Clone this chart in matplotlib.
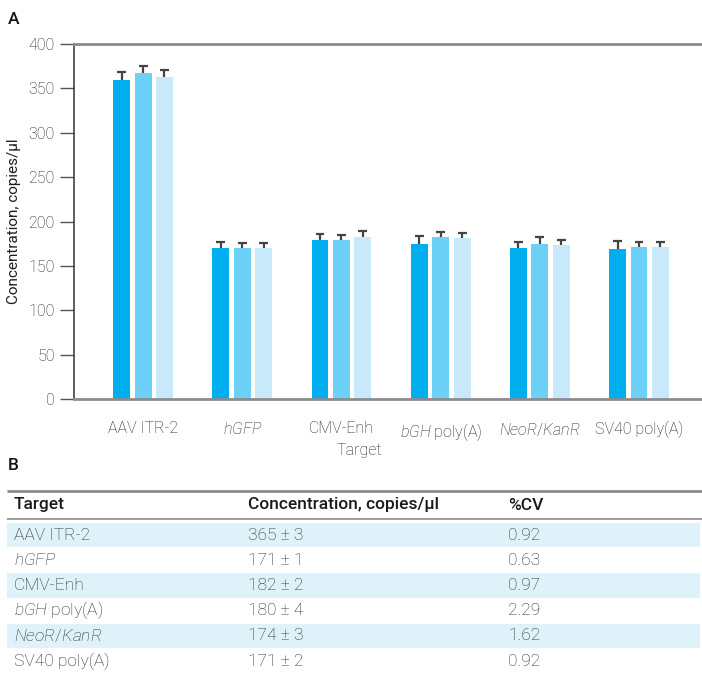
import matplotlib
matplotlib.use("Agg")
import matplotlib.pyplot as plt
import numpy as np

plt.rcParams['font.family'] = ['Roboto', 'DejaVu Sans']
plt.rcParams['font.weight'] = 'light'
plt.rcParams['mathtext.fontset'] = 'custom'
plt.rcParams['mathtext.rm'] = 'Roboto:light'
plt.rcParams['mathtext.it'] = 'Roboto:italic:light'

# ---- data ----
targets = ['AAV ITR-2', r'$\it{hGFP}$', 'CMV-Enh', r'$\it{bGH}$ poly(A)',
           r'$\it{NeoR/KanR}$', 'SV40 poly(A)']
rep1 = [360, 170, 179, 175, 170, 169]
rep2 = [367, 170, 179, 182, 175, 171]
rep3 = [363, 170, 182, 181, 173, 171]
err1 = [8, 7, 7, 9, 7, 9]
err2 = [8, 6, 6, 6, 7, 6]
err3 = [8, 6, 7, 6, 6, 6]
rep_colors = ['#00aeef', '#6dd0f7', '#c7e9f9']

table_conc = ['365 ± 3', '171 ± 1', '182 ± 2', '180 ± 4', '174 ± 3', '171 ± 2']
table_cv = ['0.92', '0.63', '0.97', '2.29', '1.62', '0.92']
table_header = ['Target', 'Concentration, copies/µl', '%CV']

W, H = 702, 689
fig = plt.figure(figsize=(W / 100, H / 100), dpi=100)
TXT = '#1e1e1e'


def box(x0, y0, x1, y1):
    return [x0 / W, 1 - y1 / H, (x1 - x0) / W, (y1 - y0) / H]


# ---- panel A: bar chart ----
ax = fig.add_axes(box(74, 44, 702, 399))
x = np.arange(len(targets))
bw = 0.171
off = 0.216
cap = 0.045
for k, (vals, errs) in enumerate(zip([rep1, rep2, rep3], [err1, err2, err3])):
    xs = x + (k - 1) * off
    vals = np.asarray(vals, float)
    tops = vals + np.asarray(errs, float)
    ax.bar(xs, vals, width=bw, color=rep_colors[k], zorder=2)
    # upper half of the error bar only
    ax.vlines(xs, vals, tops, color='#444444', lw=1.6, zorder=3)
    ax.hlines(tops, xs - cap, xs + cap, color='#444444', lw=1.6, zorder=3)

ax.set_xlim(-0.696, 5.635)
ax.set_ylim(0, 400)
ax.set_yticks(np.arange(0, 401, 50))
ax.tick_params(axis='y', length=10, width=1.0, color='#555555',
               labelsize=11.5, labelcolor=TXT, pad=4)
ax.set_xticks(x)
ax.set_xticklabels(targets)
ax.tick_params(axis='x', length=0, labelsize=11.5, labelcolor=TXT, pad=16)
ax.spines['right'].set_visible(False)
ax.spines['left'].set_color('#333333')
ax.spines['left'].set_linewidth(1.1)
for s in ['top', 'bottom']:
    ax.spines[s].set_color('#8c8c8c')
    ax.spines[s].set_linewidth(2.0)
ax.set_ylabel('Concentration, copies/µl', fontsize=11, color=TXT,
              labelpad=5)
fig.text(359 / W, 1 - 451 / H, 'Target', ha='center', va='center',
         fontsize=11.5, color=TXT)

fig.text(8 / W, 1 - 19 / H, 'A', ha='left', va='center', fontsize=12.5,
         fontweight='medium', color='#111111')
fig.text(8 / W, 1 - 466 / H, 'B', ha='left', va='center', fontsize=12.5,
         fontweight='medium', color='#111111')

# ---- panel B: table ----
tab = fig.add_axes(box(0, 480, 702, 689))
tab.set_xlim(0, W)
tab.set_ylim(689, 480)
tab.axis('off')
col_x = [14, 248, 508]
header_y = 505
row_h = 25.2
first_row = 535
tab.plot([7, 702], [491, 491], color='#8c8c8c', lw=2.0, solid_capstyle='butt')
tab.plot([7, 702], [519, 519], color='#8c8c8c', lw=1.2, solid_capstyle='butt')
for cx, h in zip(col_x, table_header):
    tab.text(cx, header_y, h, ha='left', va='center', fontsize=12.5,
             fontweight='medium', color='#1a1a1a')
for i, (t, c, v) in enumerate(zip(targets, table_conc, table_cv)):
    yc = first_row + i * row_h
    if i % 2 == 0:
        tab.axhspan(yc - 12.2, yc + 12.2, xmin=7 / W, xmax=700 / W,
                    color='#dff2fa', lw=0, zorder=0)
    for cx, s in zip(col_x, [t, c, v]):
        tab.text(cx, yc, s, ha='left', va='center', fontsize=12.5,
                 color='#2a2a2a')

fig.savefig('out.png', dpi=100)
